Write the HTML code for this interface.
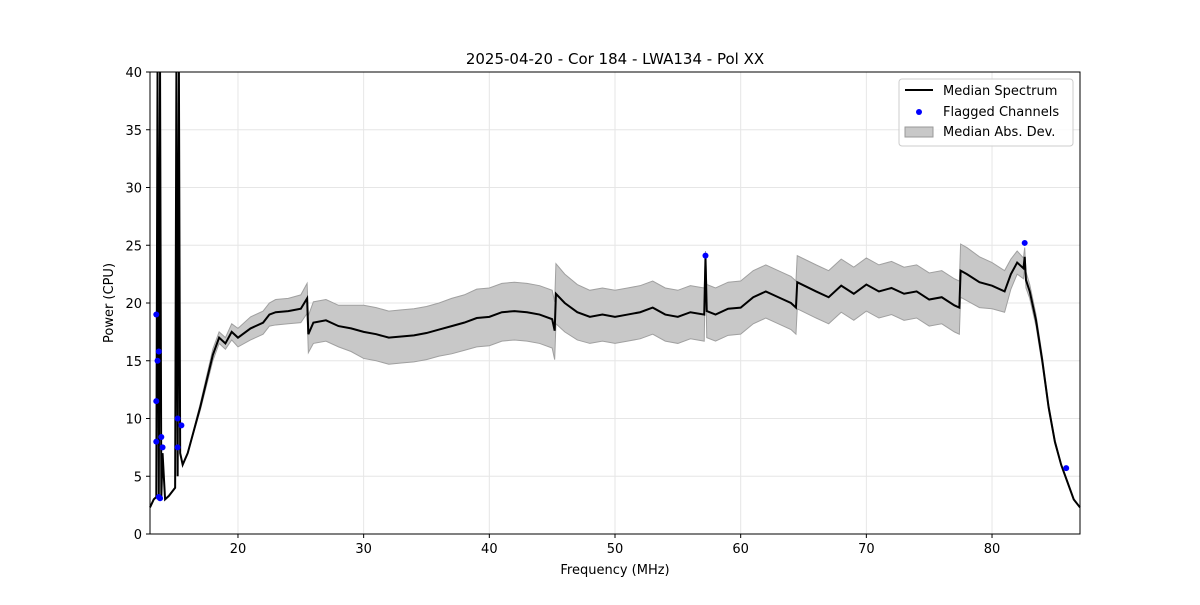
<!DOCTYPE html>
<html><head><meta charset="utf-8"><style>
body{margin:0;background:#fff;font-family:"Liberation Sans","DejaVu Sans",sans-serif}
svg text{font-family:"DejaVu Sans","Liberation Sans",sans-serif}
</style></head><body>
<svg id="chart" width="1200" height="600" xmlns="http://www.w3.org/2000/svg">
<rect width="1200" height="600" fill="#fff"/>
<g id="grid"></g>
<g id="plot"></g>
<rect x="150" y="72" width="930" height="462" fill="none" stroke="#000" stroke-width="1"/>
<g id="axes"></g>
<text x="615" y="64" text-anchor="middle" font-size="15">2025-04-20 - Cor 184 - LWA134 - Pol XX</text>
<text x="615" y="574" text-anchor="middle" font-size="13">Frequency (MHz)</text>
<text transform="translate(113,303) rotate(-90)" text-anchor="middle" font-size="13">Power (CPU)</text>
<g>
<rect x="899" y="79" width="174" height="67" rx="3" fill="#fff" fill-opacity="0.85" stroke="#ccc"/>
<line x1="905" y1="90" x2="933" y2="90" stroke="#000" stroke-width="2"/>
<text x="943" y="95" font-size="13">Median Spectrum</text>
<circle cx="919" cy="112" r="3" fill="#0000ff"/>
<text x="943" y="116" font-size="13">Flagged Channels</text>
<rect x="905" y="127" width="28" height="10" fill="#c8c8c8" stroke="#999"/>
<text x="943" y="136" font-size="13">Median Abs. Dev.</text>
</g>
</svg>
<script>
const freqs=[13.0,13.3,13.5,13.6,13.7,13.8,13.9,14.0,14.2,14.5,15.0,15.1,15.2,15.3,15.4,15.6,16,17,18,18.5,19,19.5,20,21,22,22.5,23,24,25,25.5,25.6,26,27,28,29,30,31,32,33,34,35,36,37,38,39,40,41,42,43,44,45,45.2,45.3,46,47,48,49,50,51,52,53,54,55,56,57.1,57.2,57.3,58,59,60,61,62,63,64,64.4,64.5,66,67,68,69,70,71,72,73,74,75,76,77,77.4,77.5,78,79,80,81,81.5,82,82.5,82.6,82.7,83,83.5,84,84.5,85,85.5,86,86.5,87];
const power=[2.3,3.0,3.2,40,3,40,3.2,7,3,3.3,4,40,5,40,7,6,7,11,15.5,17,16.5,17.5,17,17.8,18.3,19,19.2,19.3,19.5,20.4,17.3,18.3,18.5,18,17.8,17.5,17.3,17,17.1,17.2,17.4,17.7,18,18.3,18.7,18.8,19.2,19.3,19.2,19,18.6,17.6,20.8,20,19.2,18.8,19,18.8,19,19.2,19.6,19,18.8,19.2,19,24,19.3,19,19.5,19.6,20.5,21,20.5,20,19.6,21.8,21,20.5,21.5,20.8,21.6,21,21.3,20.8,21,20.3,20.5,19.8,19.6,22.8,22.5,21.8,21.5,21,22.5,23.5,23,24,22,21,18.5,15,11,8,6,4.5,3,2.3];
const mad=[0,0,0,0,0,0,0,0,0,0,0,0,0,0,0,0,0,0.3,0.5,0.5,0.5,0.7,0.8,1,1,1,1.1,1.1,1.2,1.3,1.6,1.8,1.8,1.8,2,2.3,2.3,2.3,2.3,2.3,2.3,2.3,2.4,2.4,2.5,2.5,2.5,2.5,2.5,2.5,2.5,2.5,2.6,2.5,2.4,2.3,2.3,2.3,2.3,2.3,2.3,2.3,2.3,2.3,2.3,0.5,2.3,2.3,2.3,2.3,2.3,2.3,2.3,2.3,2.3,2.3,2.3,2.3,2.3,2.3,2.3,2.3,2.3,2.3,2.3,2.3,2.3,2.3,2.3,2.3,2.3,2.2,2,1.8,1.3,1,0.9,0.8,0.7,0.6,0.5,0.4,0.3,0.2,0.1,0.1,0,0];
const flagF=[13.5,13.5,13.6,13.7,13.5,13.7,13.8,13.9,14.0,15.2,15.2,15.5,57.2,82.6,85.9];
const flagP=[19,11.5,15,15.8,8,3.2,3.1,8.4,7.5,10,7.5,9.4,24.1,25.2,5.7];
const xTicks=[20,30,40,50,60,70,80];
const yTicks=[0,5,10,15,20,25,30,35,40];
const X=f=>150+(f-13)*(930/74), Y=p=>534-Math.min(p,40.5)*(462/40);
const NS='http://www.w3.org/2000/svg';
function mk(parent,tag,attrs){const e=document.createElementNS(NS,tag);for(const k in attrs)e.setAttribute(k,attrs[k]);document.getElementById(parent).appendChild(e);return e;}
xTicks.forEach(t=>{
 const g=mk('grid','line',{x1:X(t),x2:X(t),y1:72,y2:534,stroke:'#e6e6e6'});
 
 
 const tk=mk('axes','line',{x1:X(t),x2:X(t),y1:534,y2:538,stroke:'#000'});
 
 
 const tx=mk('axes','text',{x:X(t),y:553,'text-anchor':'middle','font-size':13});tx.textContent=t;
 
 
});
yTicks.forEach(t=>{
 const g=mk('grid','line',{x1:150,x2:1080,y1:Y(t),y2:Y(t),stroke:'#e6e6e6'});
 
 
 const tk=mk('axes','line',{x1:146,x2:150,y1:Y(t),y2:Y(t),stroke:'#000'});
 
 
 const tx=mk('axes','text',{x:142,y:Y(t)+5,'text-anchor':'end','font-size':13});tx.textContent=t;
 
 
});
let up=[],dn=[];
freqs.forEach((f,i)=>{up.push(X(f)+','+Y(power[i]+mad[i]));dn.unshift(X(f)+','+Y(Math.max(power[i]-mad[i],0)));});
const band=mk('plot','polygon',{points:up.concat(dn).join(' '),fill:'#c8c8c8',stroke:'#a0a0a0','stroke-width':1});


const line=mk('plot','polyline',{points:freqs.map((f,i)=>X(f)+','+Y(power[i])).join(' '),fill:'none',stroke:'#000','stroke-width':2});


flagF.forEach((f,i)=>{
 const c=mk('plot','circle',{cx:X(f),cy:Y(flagP[i]),r:3,fill:'#0000ff'});
 
 
});
</script>
</body></html>
